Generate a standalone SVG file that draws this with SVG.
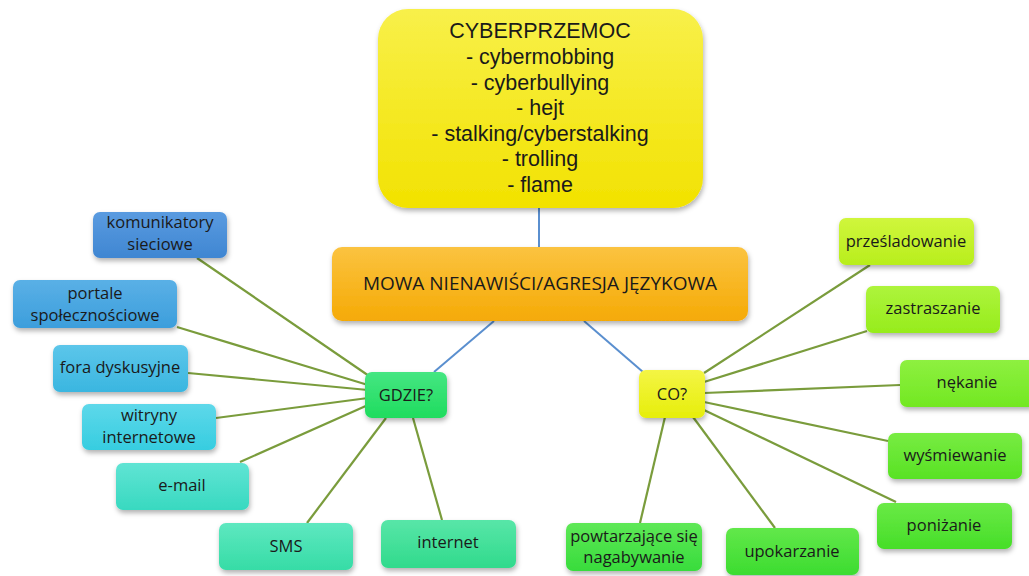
<svg xmlns="http://www.w3.org/2000/svg" width="1029" height="576" viewBox="0 0 1029 576">
<defs>
<filter id="sh" x="-20%" y="-20%" width="140%" height="150%">
<feDropShadow dx="1" dy="3" stdDeviation="2.5" flood-color="#000" flood-opacity="0.3"/>
</filter>
<linearGradient id="gTop" x1="0" y1="0" x2="0" y2="1"><stop offset="0" stop-color="#f8f04a"/><stop offset="1" stop-color="#f2e200"/></linearGradient>
<linearGradient id="gMid" x1="0" y1="0" x2="0" y2="1"><stop offset="0" stop-color="#fbc340"/><stop offset="1" stop-color="#f5aa06"/></linearGradient>
<linearGradient id="gGdzie" x1="0" y1="0" x2="0" y2="1"><stop offset="0" stop-color="#45e682"/><stop offset="1" stop-color="#1fdc5e"/></linearGradient>
<linearGradient id="gCo" x1="0" y1="0" x2="0" y2="1"><stop offset="0" stop-color="#f4f545"/><stop offset="1" stop-color="#e6ee0a"/></linearGradient>
<linearGradient id="l1" x1="0" y1="0" x2="0" y2="1"><stop offset="0" stop-color="#5a9be0"/><stop offset="1" stop-color="#3f86d2"/></linearGradient>
<linearGradient id="l2" x1="0" y1="0" x2="0" y2="1"><stop offset="0" stop-color="#5ab0e6"/><stop offset="1" stop-color="#3c9edc"/></linearGradient>
<linearGradient id="l3" x1="0" y1="0" x2="0" y2="1"><stop offset="0" stop-color="#5cc6ea"/><stop offset="1" stop-color="#3ab6e0"/></linearGradient>
<linearGradient id="l4" x1="0" y1="0" x2="0" y2="1"><stop offset="0" stop-color="#5ed8ea"/><stop offset="1" stop-color="#36cde0"/></linearGradient>
<linearGradient id="l5" x1="0" y1="0" x2="0" y2="1"><stop offset="0" stop-color="#60e4d4"/><stop offset="1" stop-color="#38d9c0"/></linearGradient>
<linearGradient id="l6" x1="0" y1="0" x2="0" y2="1"><stop offset="0" stop-color="#5ee8c0"/><stop offset="1" stop-color="#36dca6"/></linearGradient>
<linearGradient id="l7" x1="0" y1="0" x2="0" y2="1"><stop offset="0" stop-color="#58e6a8"/><stop offset="1" stop-color="#30da8c"/></linearGradient>
<linearGradient id="r1" x1="0" y1="0" x2="0" y2="1"><stop offset="0" stop-color="#d0f63c"/><stop offset="1" stop-color="#b8ee1c"/></linearGradient>
<linearGradient id="r2" x1="0" y1="0" x2="0" y2="1"><stop offset="0" stop-color="#aef43c"/><stop offset="1" stop-color="#96ec1c"/></linearGradient>
<linearGradient id="r3" x1="0" y1="0" x2="0" y2="1"><stop offset="0" stop-color="#8ef040"/><stop offset="1" stop-color="#72e822"/></linearGradient>
<linearGradient id="r4" x1="0" y1="0" x2="0" y2="1"><stop offset="0" stop-color="#78ec42"/><stop offset="1" stop-color="#58e224"/></linearGradient>
<linearGradient id="r5" x1="0" y1="0" x2="0" y2="1"><stop offset="0" stop-color="#6aea46"/><stop offset="1" stop-color="#46de28"/></linearGradient>
<linearGradient id="r6" x1="0" y1="0" x2="0" y2="1"><stop offset="0" stop-color="#62e84a"/><stop offset="1" stop-color="#3cdc30"/></linearGradient>
<linearGradient id="r7" x1="0" y1="0" x2="0" y2="1"><stop offset="0" stop-color="#5ee856"/><stop offset="1" stop-color="#38dc3c"/></linearGradient>
</defs>
<style>
text{font-family:"Open Sans","Liberation Sans",sans-serif;fill:#1a1a1a;text-anchor:middle;}
.t{font-family:"Liberation Sans",Arial,sans-serif;font-size:21.5px;}
.m{font-size:19px;}
.n{font-size:16.5px;}
.g{stroke:#7a9c3c;stroke-width:2.2;fill:none;}
.b{stroke:#5a8fcf;stroke-width:2;fill:none;}
</style>
<rect width="1029" height="576" fill="#ffffff"/>
<g id="connectors">
<line class="b" x1="539" y1="208" x2="539" y2="247"/>
<line class="b" x1="494" y1="321" x2="434" y2="372"/>
<line class="b" x1="584" y1="321" x2="643" y2="372"/>
<line class="g" x1="197" y1="258" x2="372" y2="378"/>
<line class="g" x1="177" y1="327" x2="368" y2="385"/>
<line class="g" x1="188" y1="373" x2="368" y2="390"/>
<line class="g" x1="216" y1="418" x2="368" y2="398"/>
<line class="g" x1="240" y1="462" x2="368" y2="405"/>
<line class="g" x1="307" y1="523" x2="386" y2="418"/>
<line class="g" x1="442" y1="520" x2="413" y2="418"/>
<line class="g" x1="870" y1="265" x2="704" y2="373"/>
<line class="g" x1="867" y1="331" x2="704" y2="382"/>
<line class="g" x1="900" y1="385" x2="704" y2="393"/>
<line class="g" x1="888" y1="441" x2="704" y2="402"/>
<line class="g" x1="896" y1="502" x2="704" y2="410"/>
<line class="g" x1="775" y1="528" x2="693" y2="417"/>
<line class="g" x1="640" y1="523" x2="665" y2="417"/>
</g>
<g id="cyberprzemoc">
<rect x="378" y="9" width="325" height="199" rx="30" fill="url(#gTop)" filter="url(#sh)"/>
<text class="t" x="540" y="38">CYBERPRZEMOC</text>
<text class="t" x="540" y="64">- cybermobbing</text>
<text class="t" x="540" y="90">- cyberbullying</text>
<text class="t" x="540" y="115">- hejt</text>
<text class="t" x="540" y="141">- stalking/cyberstalking</text>
<text class="t" x="540" y="166">- trolling</text>
<text class="t" x="540" y="192">- flame</text>
</g>
<g id="mowa">
<rect x="332" y="247" width="416" height="74" rx="10" fill="url(#gMid)" filter="url(#sh)"/>
<text class="m" x="540" y="290">MOWA NIENAWIŚCI/AGRESJA JĘZYKOWA</text>
</g>
<g id="gdzie">
<rect x="365" y="372" width="82" height="46" rx="7" fill="url(#gGdzie)" filter="url(#sh)"/>
<text class="n" x="406" y="401">GDZIE?</text>
</g>
<g id="co">
<rect x="639" y="370" width="66" height="48" rx="7" fill="url(#gCo)" filter="url(#sh)"/>
<text class="n" x="672" y="400">CO?</text>
</g>
<g id="komunikatory">
<rect x="93" y="212" width="134" height="46" rx="7" fill="url(#l1)" filter="url(#sh)"/>
<text class="n" x="160" y="228">komunikatory</text>
<text class="n" x="160" y="250">sieciowe</text>
</g>
<g id="portale">
<rect x="13" y="280" width="164" height="48" rx="7" fill="url(#l2)" filter="url(#sh)"/>
<text class="n" x="95" y="299">portale</text>
<text class="n" x="95" y="321">społecznościowe</text>
</g>
<g id="fora">
<rect x="53" y="345" width="135" height="47" rx="7" fill="url(#l3)" filter="url(#sh)"/>
<text class="n" x="120" y="373">fora dyskusyjne</text>
</g>
<g id="witryny">
<rect x="82" y="404" width="134" height="46" rx="7" fill="url(#l4)" filter="url(#sh)"/>
<text class="n" x="149" y="421">witryny</text>
<text class="n" x="149" y="443">internetowe</text>
</g>
<g id="email">
<rect x="116" y="463" width="133" height="47" rx="7" fill="url(#l5)" filter="url(#sh)"/>
<text class="n" x="182" y="491">e-mail</text>
</g>
<g id="sms">
<rect x="219" y="523" width="134" height="47" rx="7" fill="url(#l6)" filter="url(#sh)"/>
<text class="n" x="286" y="552">SMS</text>
</g>
<g id="internet">
<rect x="381" y="520" width="135" height="48" rx="7" fill="url(#l7)" filter="url(#sh)"/>
<text class="n" x="448" y="548">internet</text>
</g>
<g id="przesladowanie">
<rect x="839" y="218" width="135" height="47" rx="7" fill="url(#r1)" filter="url(#sh)"/>
<text class="n" x="906" y="247">prześladowanie</text>
</g>
<g id="zastraszanie">
<rect x="866" y="286" width="134" height="47" rx="7" fill="url(#r2)" filter="url(#sh)"/>
<text class="n" x="933" y="314">zastraszanie</text>
</g>
<g id="nekanie">
<rect x="900" y="360" width="136" height="47" rx="7" fill="url(#r3)" filter="url(#sh)"/>
<text class="n" x="967" y="388">nękanie</text>
</g>
<g id="wysmiewanie">
<rect x="888" y="433" width="134" height="46" rx="7" fill="url(#r4)" filter="url(#sh)"/>
<text class="n" x="955" y="461">wyśmiewanie</text>
</g>
<g id="ponizanie">
<rect x="877" y="503" width="135" height="46" rx="7" fill="url(#r5)" filter="url(#sh)"/>
<text class="n" x="944" y="531">poniżanie</text>
</g>
<g id="upokarzanie">
<rect x="726" y="528" width="133" height="47" rx="7" fill="url(#r6)" filter="url(#sh)"/>
<text class="n" x="792" y="557">upokarzanie</text>
</g>
<g id="powtarzajace">
<rect x="566" y="523" width="136" height="48" rx="7" fill="url(#r7)" filter="url(#sh)"/>
<text class="n" x="634" y="542">powtarzające się</text>
<text class="n" x="634" y="563">nagabywanie</text>
</g>
</svg>
